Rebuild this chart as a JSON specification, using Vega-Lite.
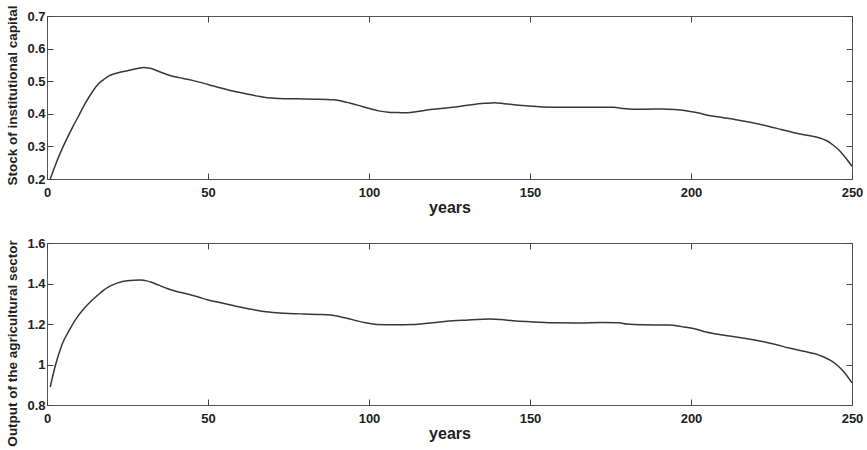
{
  "$schema": "https://vega.github.io/schema/vega-lite/v6.json",
  "background": "white",
  "padding": {"left": 5, "top": 4, "right": 5, "bottom": 3},
  "spacing": 64,
  "bounds": "flush",
  "config": {
    "font": "Liberation Sans",
    "view": {"stroke": "#555", "strokeWidth": 1},
    "axis": {
      "labelFont": "Liberation Sans", "labelFontWeight": "bold", "labelFontSize": 13, "labelColor": "#222",
      "titleFont": "Liberation Sans", "titleFontWeight": "bold", "titleColor": "#222",
      "domain": false, "grid": false, "tickColor": "#444", "tickWidth": 1, "tickSize": -6, "labelFlush": false, "labelBound": false
    }
  },
  "datasets": {
    "top": [
      {"year": 1, "value": 0.2}, {"year": 2.5, "value": 0.24}, {"year": 4, "value": 0.277}, {"year": 6, "value": 0.32},
      {"year": 8, "value": 0.36}, {"year": 10, "value": 0.397}, {"year": 12, "value": 0.434}, {"year": 14, "value": 0.466},
      {"year": 16, "value": 0.492}, {"year": 17.6, "value": 0.505}, {"year": 19, "value": 0.515},
      {"year": 20.7, "value": 0.522}, {"year": 23, "value": 0.528}, {"year": 25, "value": 0.532}, {"year": 28, "value": 0.539},
      {"year": 30, "value": 0.542}, {"year": 32, "value": 0.54}, {"year": 34, "value": 0.533}, {"year": 36, "value": 0.525},
      {"year": 38.4, "value": 0.517}, {"year": 41, "value": 0.511}, {"year": 43.6, "value": 0.506}, {"year": 47, "value": 0.498},
      {"year": 50, "value": 0.49}, {"year": 54, "value": 0.479}, {"year": 58, "value": 0.469}, {"year": 62, "value": 0.461},
      {"year": 65, "value": 0.455}, {"year": 68.5, "value": 0.449}, {"year": 72, "value": 0.447}, {"year": 78, "value": 0.446},
      {"year": 83, "value": 0.445}, {"year": 89, "value": 0.443}, {"year": 92, "value": 0.438}, {"year": 94, "value": 0.433},
      {"year": 97, "value": 0.425}, {"year": 99.5, "value": 0.418}, {"year": 103, "value": 0.409}, {"year": 106, "value": 0.405},
      {"year": 109, "value": 0.404}, {"year": 112, "value": 0.403}, {"year": 115, "value": 0.407}, {"year": 119, "value": 0.413},
      {"year": 123, "value": 0.417}, {"year": 126, "value": 0.42}, {"year": 129, "value": 0.424}, {"year": 132, "value": 0.428},
      {"year": 136, "value": 0.432}, {"year": 139, "value": 0.434}, {"year": 142, "value": 0.431}, {"year": 145, "value": 0.428},
      {"year": 150, "value": 0.424}, {"year": 154, "value": 0.421}, {"year": 160, "value": 0.42}, {"year": 165, "value": 0.42},
      {"year": 172, "value": 0.42}, {"year": 176, "value": 0.42}, {"year": 179, "value": 0.416}, {"year": 182, "value": 0.414},
      {"year": 186, "value": 0.414}, {"year": 191, "value": 0.415}, {"year": 195, "value": 0.413}, {"year": 198, "value": 0.41},
      {"year": 202, "value": 0.403}, {"year": 206, "value": 0.394}, {"year": 210, "value": 0.388}, {"year": 214, "value": 0.382},
      {"year": 218, "value": 0.375}, {"year": 224, "value": 0.362}, {"year": 228, "value": 0.352}, {"year": 232, "value": 0.342},
      {"year": 236, "value": 0.334}, {"year": 240, "value": 0.326}, {"year": 242, "value": 0.318}, {"year": 244, "value": 0.305},
      {"year": 246, "value": 0.288}, {"year": 248, "value": 0.265}, {"year": 250, "value": 0.239}
    ],
    "bottom": [
      {"year": 1, "value": 0.889}, {"year": 2.6, "value": 0.995}, {"year": 4.7, "value": 1.1}, {"year": 7.3, "value": 1.18},
      {"year": 9, "value": 1.225}, {"year": 11.4, "value": 1.274}, {"year": 13.5, "value": 1.31}, {"year": 15.6, "value": 1.34},
      {"year": 17.5, "value": 1.366}, {"year": 19.7, "value": 1.388}, {"year": 22, "value": 1.403}, {"year": 24.9, "value": 1.413},
      {"year": 29, "value": 1.417}, {"year": 31, "value": 1.413}, {"year": 32.2, "value": 1.407}, {"year": 34.5, "value": 1.393},
      {"year": 37.3, "value": 1.375}, {"year": 40, "value": 1.362}, {"year": 43.6, "value": 1.348}, {"year": 47, "value": 1.333},
      {"year": 49.8, "value": 1.32}, {"year": 54, "value": 1.305}, {"year": 58.1, "value": 1.29}, {"year": 61, "value": 1.28},
      {"year": 64.3, "value": 1.27}, {"year": 68, "value": 1.26}, {"year": 73.6, "value": 1.253}, {"year": 78.8, "value": 1.25},
      {"year": 84, "value": 1.247}, {"year": 88, "value": 1.244}, {"year": 91, "value": 1.236}, {"year": 93.5, "value": 1.227},
      {"year": 96.2, "value": 1.216}, {"year": 99, "value": 1.206}, {"year": 102.4, "value": 1.198}, {"year": 108, "value": 1.196},
      {"year": 113.8, "value": 1.197}, {"year": 119, "value": 1.205}, {"year": 124.1, "value": 1.213}, {"year": 130, "value": 1.219},
      {"year": 137.6, "value": 1.225}, {"year": 141, "value": 1.222}, {"year": 144.8, "value": 1.216}, {"year": 150, "value": 1.211},
      {"year": 157.2, "value": 1.206}, {"year": 165, "value": 1.205}, {"year": 172.4, "value": 1.207}, {"year": 177.6, "value": 1.206},
      {"year": 180, "value": 1.2}, {"year": 184.8, "value": 1.196}, {"year": 193.1, "value": 1.195}, {"year": 197, "value": 1.187},
      {"year": 201.4, "value": 1.175}, {"year": 204, "value": 1.163}, {"year": 207.7, "value": 1.151}, {"year": 212, "value": 1.141},
      {"year": 216, "value": 1.131}, {"year": 222.2, "value": 1.114}, {"year": 226, "value": 1.1}, {"year": 230.5, "value": 1.081},
      {"year": 235, "value": 1.065}, {"year": 238.8, "value": 1.052}, {"year": 241, "value": 1.038}, {"year": 243.5, "value": 1.019},
      {"year": 245.5, "value": 0.995}, {"year": 247.1, "value": 0.97}, {"year": 250, "value": 0.909}
    ]
  },
  "vconcat": [
    {
      "width": 805, "height": 163,
      "data": {"name": "top"},
      "layer": [
        {
          "mark": {"type": "line", "color": "#383838", "strokeWidth": 1.5, "interpolate": "monotone"},
          "encoding": {
            "x": {"field": "year", "type": "quantitative", "scale": {"domain": [0, 250], "nice": false},
                  "axis": {"orient": "bottom", "values": [0, 50, 100, 150, 200, 250], "title": "years", "titleFontSize": 16, "labelPadding": 13, "titlePadding": 0}},
            "y": {"field": "value", "type": "quantitative", "scale": {"domain": [0.2, 0.7], "nice": false, "zero": false},
                  "axis": {"orient": "left", "values": [0.2, 0.3, 0.4, 0.5, 0.6, 0.7], "format": "~g", "title": "Stock of institutional capital", "titleFontSize": 13.5, "titleY": 79, "labelPadding": 8, "titlePadding": 7}}
          }
        },
        {
          "mark": {"type": "line", "opacity": 0},
          "encoding": {
            "x": {"field": "year", "type": "quantitative", "axis": {"orient": "top", "values": [0, 50, 100, 150, 200, 250], "labels": false, "title": null}},
            "y": {"field": "value", "type": "quantitative", "axis": {"orient": "right", "values": [0.2, 0.3, 0.4, 0.5, 0.6, 0.7], "labels": false, "title": null}}
          }
        }
      ],
      "resolve": {"axis": {"x": "independent", "y": "independent"}}
    },
    {
      "width": 805, "height": 162,
      "data": {"name": "bottom"},
      "layer": [
        {
          "mark": {"type": "line", "color": "#383838", "strokeWidth": 1.5, "interpolate": "monotone"},
          "encoding": {
            "x": {"field": "year", "type": "quantitative", "scale": {"domain": [0, 250], "nice": false},
                  "axis": {"orient": "bottom", "values": [0, 50, 100, 150, 200, 250], "title": "years", "titleFontSize": 16, "labelPadding": 13, "titlePadding": 0}},
            "y": {"field": "value", "type": "quantitative", "scale": {"domain": [0.8, 1.6], "nice": false, "zero": false},
                  "axis": {"orient": "left", "values": [0.8, 1.0, 1.2, 1.4, 1.6], "format": "~g", "title": "Output of the agricultural sector", "titleFontSize": 13.5, "titleY": 100, "labelPadding": 8, "titlePadding": 7}}
          }
        },
        {
          "mark": {"type": "line", "opacity": 0},
          "encoding": {
            "x": {"field": "year", "type": "quantitative", "axis": {"orient": "top", "values": [0, 50, 100, 150, 200, 250], "labels": false, "title": null}},
            "y": {"field": "value", "type": "quantitative", "axis": {"orient": "right", "values": [0.8, 1.0, 1.2, 1.4, 1.6], "labels": false, "title": null}}
          }
        }
      ],
      "resolve": {"axis": {"x": "independent", "y": "independent"}}
    }
  ]
}
